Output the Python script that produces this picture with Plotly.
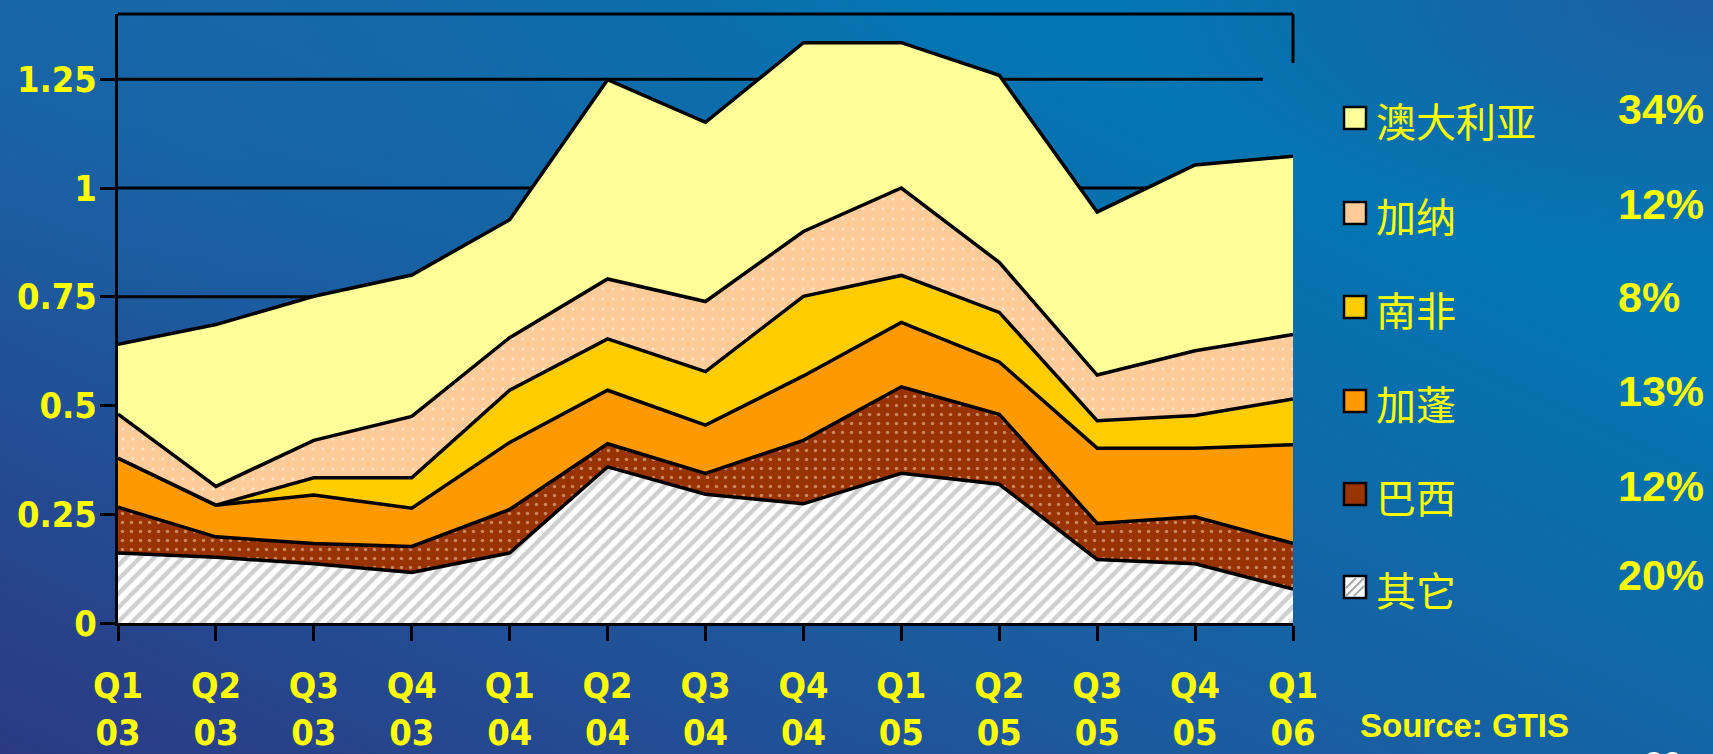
import base64
import plotly.graph_objects as go

# ---------------- data ----------------
quarters = ["Q1<br>03", "Q2<br>03", "Q3<br>03", "Q4<br>03",
            "Q1<br>04", "Q2<br>04", "Q3<br>04", "Q4<br>04",
            "Q1<br>05", "Q2<br>05", "Q3<br>05", "Q4<br>05", "Q1<br>06"]

other = [0.161, 0.151, 0.136, 0.116, 0.161, 0.359, 0.296, 0.274, 0.344, 0.319, 0.146, 0.136, 0.078]
brazil = [0.105, 0.047, 0.047, 0.060, 0.100, 0.053, 0.048, 0.146, 0.199, 0.161, 0.083, 0.108, 0.105]
gabon = [0.113, 0.073, 0.111, 0.088, 0.154, 0.123, 0.111, 0.148, 0.148, 0.120, 0.173, 0.158, 0.227]
south_africa = [0.000, 0.000, 0.040, 0.070, 0.120, 0.118, 0.123, 0.183, 0.108, 0.114, 0.063, 0.075, 0.105]
ghana = [0.101, 0.043, 0.086, 0.141, 0.121, 0.138, 0.161, 0.149, 0.201, 0.115, 0.105, 0.149, 0.148]
australia = [0.161, 0.372, 0.331, 0.325, 0.271, 0.458, 0.412, 0.434, 0.334, 0.430, 0.375, 0.427, 0.410]

series_names = ["其它", "巴西", "加蓬", "南非", "加纳", "澳大利亚"]
series_values = [other, brazil, gabon, south_africa, ghana, australia]
legend_order = ["澳大利亚", "加纳", "南非", "加蓬", "巴西", "其它"]
legend_shares = ["34%", "12%", "8%", "13%", "12%", "20%"]

y_tickvals = [0, 0.25, 0.5, 0.75, 1, 1.25]
y_ticktext = ["0", "0.25", "0.5", "0.75", "1", "1.25"]
grid_vals = [0.75, 1, 1.25]

source_text = "Source: GTIS"
page_number = "20"

# ---------------- styles ----------------
W_FIG, H_FIG = 1713, 754
L, R, T, B = 118, 1293, 14, 623
PW, PH = R - L, B - T

YELLOW = "#FFFF00"
TICK_FONT = dict(family="Liberation Sans Narrow, DejaVu Sans Condensed, Liberation Sans, Arial",
                 size=36, color=YELLOW, weight="bold")

styles = {
    "其它": dict(fillcolor="#FFFFFF", fillpattern=dict(shape="/", fgcolor="#A0A0A0", bgcolor="#FFFFFF",
                                                      size=10, solidity=0.45)),
    "巴西": dict(fillcolor="#993300", fillpattern=dict(shape=".", fgcolor="#FFD8C0", bgcolor="#993300",
                                                      size=9, solidity=0.12)),
    "加蓬": dict(fillcolor="#FF9900"),
    "南非": dict(fillcolor="#FFCC00"),
    "加纳": dict(fillcolor="#FFCC99", fillpattern=dict(shape=".", fgcolor="#FFFFFF", bgcolor="#FFCC99",
                                                      size=10, solidity=0.06)),
    "澳大利亚": dict(fillcolor="#FFFF99"),
}


def px(x):
    return (x - L) / PW


def py(y):
    return (B - y) / PH


fig = go.Figure()
for name, vals in zip(series_names, series_values):
    fig.add_trace(go.Scatter(
        x=quarters, y=vals, name=name, mode="lines", stackgroup="one",
        line=dict(color="black", width=3.5), showlegend=False, hoverinfo="x+y+name",
        **styles[name]))

# ---------------- background gradient ----------------
svg = f'''<svg xmlns="http://www.w3.org/2000/svg" width="{W_FIG}" height="{H_FIG}" viewBox="0 0 {W_FIG} {H_FIG}">
<defs>
<linearGradient id="g" x1="0" y1="1" x2="0.8" y2="0.25">
<stop offset="0" stop-color="#2B3A84"/>
<stop offset="0.45" stop-color="#1D5A9E"/>
<stop offset="1" stop-color="#0277B3"/>
</linearGradient>
<radialGradient id="r" cx="1" cy="0" r="0.35">
<stop offset="0" stop-color="#24589E" stop-opacity="0.8"/>
<stop offset="1" stop-color="#24589E" stop-opacity="0"/>
</radialGradient>
<radialGradient id="t" cx="0.1" cy="0" r="0.45">
<stop offset="0" stop-color="#1A68A8" stop-opacity="0.7"/>
<stop offset="1" stop-color="#1A68A8" stop-opacity="0"/>
</radialGradient>
</defs>
<rect width="100%" height="100%" fill="url(#g)"/>
<rect width="100%" height="100%" fill="url(#t)"/>
<rect width="100%" height="100%" fill="url(#r)"/>
</svg>'''
src = "data:image/svg+xml;base64," + base64.b64encode(svg.encode()).decode()

shapes = []
# grid lines (stop short of the right border)
for gv in grid_vals:
    shapes.append(dict(type="line", xref="x domain", yref="y", x0=0, x1=px(1263), y0=gv, y1=gv,
                       line=dict(color="black", width=3), layer="below"))
# top border and a short piece of the right border
shapes.append(dict(type="line", xref="paper", yref="paper", x0=0, x1=1, y0=1, y1=1,
                   line=dict(color="black", width=3)))
shapes.append(dict(type="line", xref="paper", yref="paper", x0=1, x1=1, y0=1, y1=py(63),
                   line=dict(color="black", width=3)))

annotations = []
sq_centers = [118, 213, 307, 401, 494, 587]
pct_centers = [109, 204, 297, 391, 486, 575]
for name, share, cy, pcy in zip(legend_order, legend_shares, sq_centers, pct_centers):
    st = styles[name]
    shapes.append(dict(type="rect", xref="paper", yref="paper",
                       x0=px(1344), x1=px(1366), y0=py(cy + 11), y1=py(cy - 11),
                       fillcolor=st["fillcolor"], line=dict(color="black", width=2.5)))
    if name == "其它":
        for (xa, ya, xb, yb) in [(1346, cy + 9, 1364, cy - 9), (1346, cy + 1, 1356, cy - 9),
                                 (1354, cy + 9, 1364, cy - 1)]:
            shapes.append(dict(type="line", xref="paper", yref="paper",
                               x0=px(xa), y0=py(ya), x1=px(xb), y1=py(yb),
                               line=dict(color="#A8A8A8", width=2)))
    annotations.append(dict(text=name, xref="paper", yref="paper", x=px(1374), y=py(cy + 2),
                            xanchor="left", yanchor="middle", showarrow=False,
                            font=dict(family="Noto Sans CJK SC", size=40, color=YELLOW)))
    annotations.append(dict(text=share, xref="paper", yref="paper", x=px(1616), y=py(pcy),
                            xanchor="left", yanchor="middle", showarrow=False,
                            font=dict(family="Liberation Sans, Arial", size=43, color=YELLOW, weight="bold")))

annotations.append(dict(text=source_text, xref="paper", yref="paper", x=px(1358), y=py(726),
                        xanchor="left", yanchor="middle", showarrow=False,
                        font=dict(family="Liberation Sans, Arial", size=33, color=YELLOW, weight="bold")))
annotations.append(dict(text=page_number, xref="paper", yref="paper", x=px(1663), y=py(742),
                        xanchor="center", yanchor="top", showarrow=False,
                        font=dict(family="Liberation Sans, Arial", size=34, color="#FFFFFF")))

fig.update_layout(
    width=W_FIG, height=H_FIG,
    margin=dict(l=L, r=W_FIG - R, t=T, b=H_FIG - B, autoexpand=False),
    paper_bgcolor="#15609F", plot_bgcolor="rgba(0,0,0,0)",
    showlegend=False,
    images=[dict(source=src, xref="paper", yref="paper", x=px(0), y=py(0),
                 sizex=W_FIG / PW, sizey=H_FIG / PH, xanchor="left", yanchor="top",
                 sizing="stretch", layer="below")],
    shapes=shapes, annotations=annotations,
    xaxis=dict(type="category", range=[0, len(quarters) - 1], showgrid=False, zeroline=False,
               showline=True, linecolor="black", linewidth=3,
               ticks="outside", ticklen=15, tickwidth=3, tickcolor="black",
               tickfont=TICK_FONT, ticklabelstandoff=14),
    yaxis=dict(range=[0, 1.4], tickvals=y_tickvals, ticktext=y_ticktext, showgrid=False,
               zeroline=False, showline=True, linecolor="black", linewidth=3,
               ticks="outside", ticklen=15, tickwidth=3, tickcolor="black",
               tickfont=TICK_FONT, ticklabelstandoff=-4),
)

fig.write_html("out.html", config={"displayModeBar": False},
               post_script="document.body.style.margin='0';document.body.style.overflow='hidden';")
